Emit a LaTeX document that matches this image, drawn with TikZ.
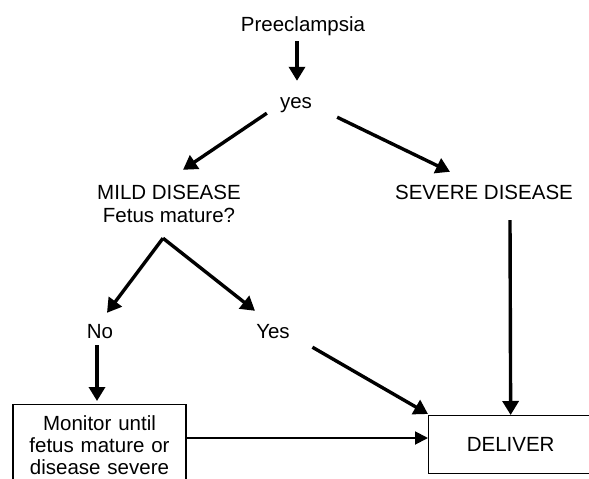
\documentclass[tikz,border=0pt]{standalone}
\usepackage{fontspec}
\setmainfont{Liberation Sans}
\usepackage{tikz}
\usetikzlibrary{arrows.meta}

\begin{document}
\begin{tikzpicture}[x=1pt, y=-1pt,
  lbl/.style={inner sep=0pt, text height=15pt, text depth=4pt, anchor=base, font=\fontsize{20.5}{22}\selectfont},
  arr/.style={-{Triangle[length=14pt,width=16pt]}, line width=3.4pt},
  thinarr/.style={-{Triangle[length=13pt,width=13pt]}, line width=1.9pt},
  box/.style={draw, line width=1.3pt, font=\fontsize{20.5}{22}\selectfont}]
\useasboundingbox (0,0) rectangle (589,479);
\clip (0,0) rectangle (589,479);
\node[lbl] (pre) at (303,31) {Preeclampsia};
\node[lbl] (yes) at (296,108) {yes};
\node[lbl] (mild) at (169,199) {MILD DISEASE};
\node[lbl] (fetus) at (169,222) {Fetus mature?};
\node[lbl] (severe) at (484,199) {SEVERE DISEASE};
\node[lbl] (no) at (100,338) {No};
\node[lbl] (yesb) at (273,338) {Yes};
\node[box, anchor=north, text width=150pt, inner xsep=11.5pt, inner ysep=10.5pt, align=center] (monitor) at (99.5,404) {Monitor until\\fetus mature or\\disease severe};
\node[box, anchor=north west, minimum width=164pt, minimum height=58pt] (deliver) at (428,415) {DELIVER};
% top part
\draw[arr] ([xshift=-6pt,yshift=-6pt]pre.south) -- ([xshift=1pt,yshift=12pt]yes.north);
\draw[arr] ([xshift=-13pt,yshift=-1pt]yes.south west) -- ([xshift=14pt,yshift=14pt]mild.north);
\draw[arr] ([xshift=25pt,yshift=-5pt]yes.south east) -- ([xshift=-34pt,yshift=12pt]severe.north);
\draw[arr] ([xshift=26pt,yshift=-17pt]severe.south) -- (deliver.north);
% fetus mature?
\draw[arr] ([xshift=-6pt,yshift=-12pt]fetus.south) -- ([xshift=7pt,yshift=10pt]no.north);
\draw[arr] ([xshift=-6pt,yshift=-12pt]fetus.south) -- ([xshift=-18pt,yshift=12pt]yesb.north);
% bottom part
\draw[arr] ([xshift=-3pt,yshift=-3pt]no.south) -- ([xshift=-2.5pt,yshift=3pt]monitor.north);
\draw[arr] ([xshift=22.5pt,yshift=-5pt]yesb.south east) -- ([yshift=1pt]deliver.north west);
\draw[thinarr] ([yshift=-34pt]monitor.north east) -- ([yshift=-23pt]deliver.north west);
\end{tikzpicture}
\end{document}
